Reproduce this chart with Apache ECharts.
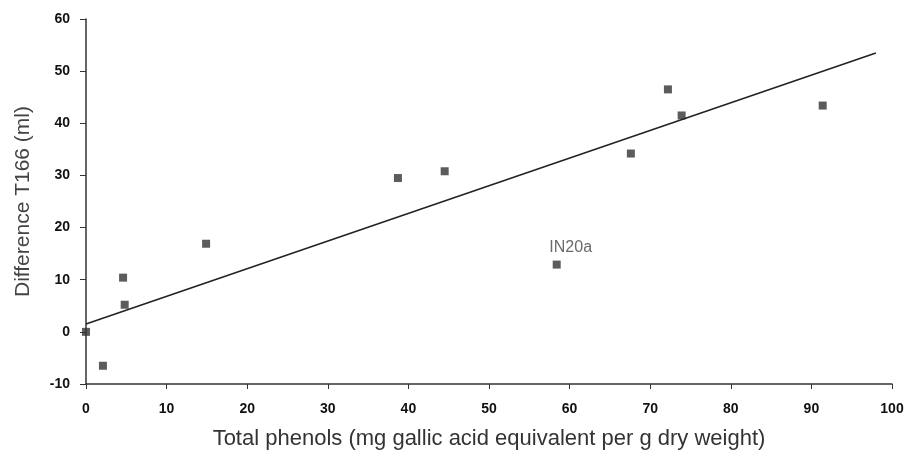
<!DOCTYPE html>
<html>
<head>
<meta charset="utf-8">
<script src="https://cdn.jsdelivr.net/npm/echarts@6/dist/echarts.min.js"></script>
<style>
  html, body { margin: 0; padding: 0; background: #fff; }
  #chart { width: 908px; height: 450px; }
</style>
</head>
<body>
<div id="chart"></div>
<script>
// samples: total phenols vs difference T166
let phenols = [0, 2.1, 4.6, 4.8, 14.9, 38.7, 44.5, 58.4, 67.6, 72.2, 73.9, 91.4];
let diffT166 = [0, -6.5, 10.4, 5.2, 16.9, 29.5, 30.8, 12.9, 34.2, 46.5, 41.5, 43.4];
let pointNames = ["", "", "", "", "", "", "", "IN20a", "", "", "", ""];

// regression line ends
let fitX = [0, 98];
let fitY = [1.5, 53.5];

let xTicks = [0, 10, 20, 30, 40, 50, 60, 70, 80, 90, 100];
let yTicks = [-10, 0, 10, 20, 30, 40, 50, 60];

let chart = echarts.init(document.getElementById("chart"));

let points = phenols.map(function (x, i) {
  let p = { value: [x, diffT166[i]] };
  if (pointNames[i]) {
    p.label = {
      show: true,
      formatter: pointNames[i],
      position: "top",
      offset: [14, 0],
      color: "#444",
      fontSize: 16,
      fontFamily: "Liberation Sans",
    };
  }
  return p;
});

let option = {
  backgroundColor: "#fff",
  animation: false,
  grid: { left: 86, right: 16, top: 19, bottom: 66, containLabel: false, outerBoundsMode: "none" },
  xAxis: {
    type: "value",
    min: xTicks[0],
    max: xTicks[xTicks.length - 1],
    interval: 10,
    name: "Total phenols (mg gallic acid equivalent per g dry weight)",
    nameLocation: "middle",
    nameGap: 44,
    nameTextStyle: { color: "#333", fontSize: 22, fontFamily: "Liberation Sans" },
    axisLine: { onZero: false, lineStyle: { color: "#333", width: 1.5 } },
    axisTick: { length: 5, lineStyle: { color: "#333" } },
    axisLabel: { color: "#111", fontSize: 14, fontWeight: "bold", fontFamily: "Liberation Sans", margin: 18 },
    splitLine: { show: false },
  },
  yAxis: {
    type: "value",
    min: yTicks[0],
    max: yTicks[yTicks.length - 1],
    interval: 10,
    name: "Difference T166 (ml)",
    nameLocation: "middle",
    nameGap: 52,
    nameTextStyle: { color: "#444", fontSize: 21, fontFamily: "Liberation Sans" },
    axisLine: { show: true, onZero: false, lineStyle: { color: "#333", width: 1.5 } },
    axisTick: { show: true, length: 6, lineStyle: { color: "#333" } },
    axisLabel: { color: "#111", fontSize: 14, fontWeight: "bold", fontFamily: "Liberation Sans", margin: 16 },
    splitLine: { show: false },
  },
  series: [
    {
      type: "line",
      data: fitX.map(function (x, i) { return [x, fitY[i]]; }),
      showSymbol: false,
      lineStyle: { color: "#222", width: 1.6 },
    },
    {
      type: "scatter",
      data: points,
      symbol: "rect",
      symbolSize: 8,
      itemStyle: { color: "#333" },
    },
  ],
};
chart.setOption(option);
</script>
</body>
</html>
